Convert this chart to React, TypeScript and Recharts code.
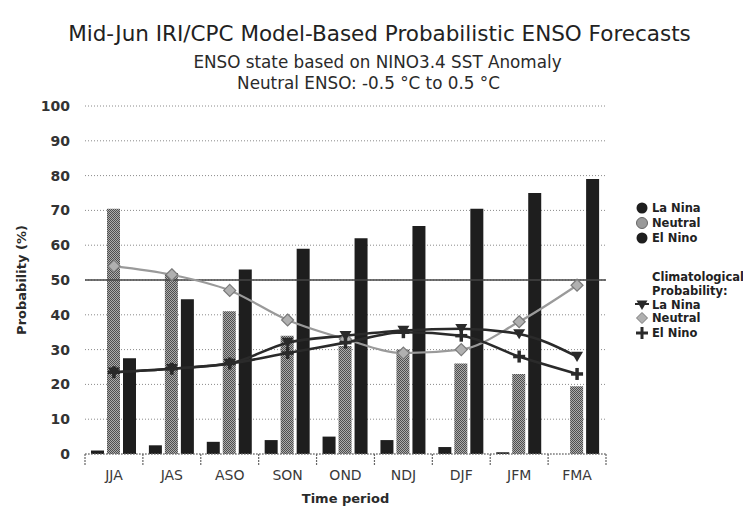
import React from 'react';
import { ComposedChart, Bar, Line, XAxis, YAxis, CartesianGrid, ReferenceLine } from 'recharts';

const categories = ['JJA', 'JAS', 'ASO', 'SON', 'OND', 'NDJ', 'DJF', 'JFM', 'FMA'];
const laNina = [1, 2.5, 3.5, 4, 5, 4, 2, 0.5, 0];
const neutral = [70.5, 52, 41, 34, 31, 30, 26, 23, 19.5];
const elNino = [27.5, 44.5, 53, 59, 62, 65.5, 70.5, 75, 79];
const climLaNina = [23.5, 24.5, 26, 32, 34, 35.5, 36, 34.5, 28];
const climNeutral = [54, 51.5, 47, 38.5, 33, 29, 30, 38, 48.5];
const climElNino = [23.5, 24.5, 26, 29, 32, 35, 34, 28, 23];
const yTicks = [0, 10, 20, 30, 40, 50, 60, 70, 80, 90, 100];

const data = categories.map((c, i) => ({
  period: c,
  laNina: laNina[i],
  neutral: neutral[i],
  elNino: elNino[i],
  climLaNina: climLaNina[i],
  climNeutral: climNeutral[i],
  climElNino: climElNino[i],
}));

const W = 743;
const H = 508;
const MARGIN = { top: 106, right: 137, left: 0, bottom: 24 };
const Y_W = 85;
const X_H = 30;
const PLOT_W = W - MARGIN.left - MARGIN.right - Y_W;

const DARK = '#1e1e1e';
const LINE_DARK = '#2a2a2a';
const GRAY_LINE = '#9a9a9a';
const FONT = '"DejaVu Sans", Verdana, sans-serif';

const triPath = (cx: number, cy: number, s: number) =>
  `M${cx - s},${cy - s * 0.8} L${cx + s},${cy - s * 0.8} L${cx},${cy + s * 0.9} Z`;
const diamondPath = (cx: number, cy: number, s: number) =>
  `M${cx},${cy - s} L${cx + s},${cy} L${cx},${cy + s} L${cx - s},${cy} Z`;

const TriDot = (props: any) => {
  const { cx, cy, index } = props;
  if (cx == null || cy == null) return <g key={`t${index}`} />;
  return <path key={`t${index}`} d={triPath(cx, cy, 6)} fill={LINE_DARK} />;
};
const DiaDot = (props: any) => {
  const { cx, cy, index } = props;
  if (cx == null || cy == null) return <g key={`d${index}`} />;
  return <path key={`d${index}`} d={diamondPath(cx, cy, 6)} fill="#b0b0b0" stroke="#7a7a7a" strokeWidth={1.2} />;
};
const PlusDot = (props: any) => {
  const { cx, cy, index } = props;
  if (cx == null || cy == null) return <g key={`p${index}`} />;
  return (
    <g key={`p${index}`}>
      <line x1={cx - 6} x2={cx + 6} y1={cy} y2={cy} stroke={LINE_DARK} strokeWidth={3.5} />
      <line x1={cx} x2={cx} y1={cy - 6} y2={cy + 6} stroke={LINE_DARK} strokeWidth={3.5} />
    </g>
  );
};

const XTick = (props: any) => {
  const { x, y, payload, index, visibleTicksCount, width } = props;
  const n = visibleTicksCount || categories.length;
  const band = (typeof width === 'number' && width > 0 ? width : PLOT_W) / n;
  const axisY = y - 8;
  const left = x - band / 2;
  const right = x + band / 2;
  return (
    <g>
      <line x1={left} x2={left} y1={axisY} y2={axisY + 12} stroke="#666" strokeWidth={1.2} strokeDasharray="2 1" />
      {index === n - 1 && (
        <line x1={right} x2={right} y1={axisY} y2={axisY + 12} stroke="#666" strokeWidth={1.2} strokeDasharray="2 1" />
      )}
      <text x={x} y={y + 18} textAnchor="middle" fill="#3a3a3a" fontSize={14} fontFamily={FONT}>
        {payload.value}
      </text>
    </g>
  );
};

const YLabel = (props: any) => {
  const vb = props.viewBox || { x: 0, y: MARGIN.top, height: H - MARGIN.top - MARGIN.bottom - X_H };
  const cx = vb.x + 21;
  const cy = vb.y + vb.height / 2;
  return (
    <text
      x={cx}
      y={cy}
      transform={`rotate(-90 ${cx} ${cy})`}
      textAnchor="middle"
      dominantBaseline="central"
      fontSize={13}
      fontWeight="bold"
      fill="#2a2a2a"
      fontFamily={FONT}
    >
      Probability (%)
    </text>
  );
};

const legendText: React.CSSProperties = {
  position: 'absolute',
  left: 652,
  fontSize: 11.5,
  fontWeight: 'bold',
  color: '#222',
  fontFamily: FONT,
  lineHeight: '14px',
  whiteSpace: 'nowrap',
  transform: 'translateY(-50%)',
};

const LegendMark = ({ top, children }: { top: number; children: React.ReactNode }) => (
  <svg style={{ position: 'absolute', left: 635, top: top - 7 }} width={14} height={14}>
    {children}
  </svg>
);

export default function App() {
  return (
    <div style={{ position: 'absolute', left: 0, top: 0, width: W, height: H, background: '#fff', overflow: 'hidden', fontFamily: FONT }}>
      <div style={{ position: 'absolute', left: 8, width: W, top: 20, textAlign: 'center', fontSize: 21.5, color: '#222', lineHeight: '28px', whiteSpace: 'nowrap' }}>
        Mid-Jun IRI/CPC Model-Based Probabilistic ENSO Forecasts
      </div>
      <div style={{ position: 'absolute', left: 6, width: W, top: 52, textAlign: 'center', fontSize: 16.8, color: '#2a2a2a', lineHeight: '21px', whiteSpace: 'nowrap' }}>
        ENSO state based on NINO3.4 SST Anomaly
      </div>
      <div style={{ position: 'absolute', left: -3, width: W, top: 73, textAlign: 'center', fontSize: 16.8, color: '#2a2a2a', lineHeight: '21px', whiteSpace: 'nowrap' }}>
        Neutral ENSO: -0.5 °C to 0.5 °C
      </div>

      <div style={{ position: 'absolute', left: 0, top: 0 }}>
        <ComposedChart width={W} height={H} data={data} margin={MARGIN} barGap={3}>
          <defs>
            <pattern id="neutralHatch" width={2} height={2} patternUnits="userSpaceOnUse">
              <rect width={2} height={2} fill="#acacac" />
              <rect x={0} y={0} width={1} height={1} fill="#4e4e4e" />
              <rect x={1} y={1} width={1} height={1} fill="#4e4e4e" />
            </pattern>
          </defs>
          <CartesianGrid vertical={false} stroke="#8a8a8a" strokeDasharray="1 2" />
          <XAxis
            dataKey="period"
            height={X_H}
            tickSize={6}
            tickMargin={2}
            tickLine={false}
            axisLine={{ stroke: '#777', strokeDasharray: '2 1' }}
            tick={<XTick />}
            interval={0}
            label={{
              value: 'Time period',
              position: 'insideBottom',
              offset: -19,
              style: { fontSize: 13, fontWeight: 'bold', fill: '#2a2a2a', fontFamily: FONT },
            }}
          />
          <YAxis
            width={Y_W}
            domain={[0, 100]}
            ticks={yTicks}
            interval={0}
            axisLine={false}
            tickLine={false}
            tickSize={6}
            tickMargin={9}
            tick={{ fontSize: 14, fontWeight: 'bold', fill: '#333', fontFamily: FONT }}
            label={<YLabel />}
          />
          <ReferenceLine y={50} stroke="#444" strokeWidth={1.6} />
          <Bar dataKey="laNina" fill={DARK} barSize={13} isAnimationActive={false} />
          <Bar dataKey="neutral" fill="url(#neutralHatch)" barSize={13} isAnimationActive={false} />
          <Bar dataKey="elNino" fill={DARK} barSize={13} isAnimationActive={false} />
          <Line type="monotone" dataKey="climNeutral" stroke={GRAY_LINE} strokeWidth={2.2} dot={DiaDot} activeDot={false} isAnimationActive={false} />
          <Line type="monotone" dataKey="climLaNina" stroke={LINE_DARK} strokeWidth={2.6} dot={TriDot} activeDot={false} isAnimationActive={false} />
          <Line type="monotone" dataKey="climElNino" stroke={LINE_DARK} strokeWidth={2.6} dot={PlusDot} activeDot={false} isAnimationActive={false} />
        </ComposedChart>
      </div>

      <LegendMark top={208}><circle cx={7} cy={7} r={5.5} fill={DARK} /></LegendMark>
      <div style={{ ...legendText, top: 208 }}>La Nina</div>
      <LegendMark top={223}><circle cx={7} cy={7} r={5.5} fill="#999" stroke="#666" /></LegendMark>
      <div style={{ ...legendText, top: 223 }}>Neutral</div>
      <LegendMark top={238}><circle cx={7} cy={7} r={5.5} fill={DARK} /></LegendMark>
      <div style={{ ...legendText, top: 238 }}>El Nino</div>

      <div style={{ ...legendText, top: 277 }}>Climatological</div>
      <div style={{ ...legendText, top: 291 }}>Probability:</div>
      <LegendMark top={305}><path d={triPath(7, 7, 5.5)} fill={LINE_DARK} /><line x1={0} x2={14} y1={6} y2={6} stroke={LINE_DARK} strokeWidth={2} /></LegendMark>
      <div style={{ ...legendText, top: 305 }}>La Nina</div>
      <LegendMark top={318}><path d={diamondPath(7, 7, 5.5)} fill="#b0b0b0" stroke="#7a7a7a" /></LegendMark>
      <div style={{ ...legendText, top: 318 }}>Neutral</div>
      <LegendMark top={333}>
        <line x1={1} x2={13} y1={7} y2={7} stroke={LINE_DARK} strokeWidth={3} />
        <line x1={7} x2={7} y1={1} y2={13} stroke={LINE_DARK} strokeWidth={3} />
      </LegendMark>
      <div style={{ ...legendText, top: 333 }}>El Nino</div>
    </div>
  );
}
